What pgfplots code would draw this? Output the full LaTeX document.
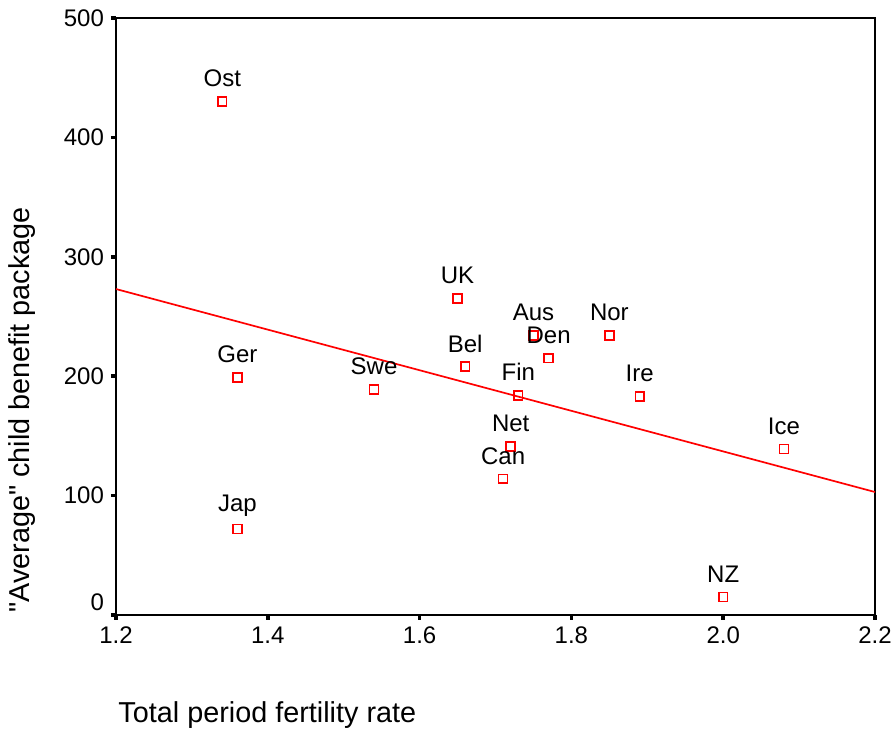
\documentclass[border=0pt]{standalone}
\usepackage{pgfplots}
\pgfplotsset{compat=1.18}
\usepackage{fontspec}
\setmainfont{Liberation Sans}
% family without the TeX quote mapping, so " stays straight
\newfontfamily\plainquote{Liberation Sans}
\definecolor{spssRed}{RGB}{255,0,0}

\begin{document}
\begin{tikzpicture}
\begin{axis}[
  scale only axis,
  width=379.5pt,height=298.5pt,
  xmin=1.2,xmax=2.2,ymin=0,ymax=500,
  xtick={1.2,1.4,...,2.2},
  ytick={100,200,...,500},
  extra y ticks={0},
  extra y tick style={yticklabel style={yshift=6.5pt}},
  xtick pos=bottom,ytick pos=left,
  xticklabel style={/pgf/number format/fixed,
    /pgf/number format/fixed zerofill,
    /pgf/number format/precision=1},
  /pgf/number format/assume math mode=true,
  tick label style={font=\fontsize{12}{14}\selectfont},
  tick align=outside,
  major tick length=2.5pt,
  tick style={black,line width=1.8pt},
  axis line style={line width=0.7pt},
  clip=false,
  xlabel={Total period fertility rate},
  ylabel={\plainquote "Average" child benefit package},
  xlabel style={at={(axis description cs:0,0)},anchor=west,
                xshift=-2.3pt,yshift=-50pt,font=\fontsize{14.4}{16}\selectfont},
  ylabel style={at={(axis description cs:-0.1238,0.3434)},anchor=center,
                font=\fontsize{14.4}{16}\selectfont},
]
\addplot[spssRed,line width=0.85pt] coordinates {(1.2,273) (2.2,103)};
\addplot[spssRed,draw=spssRed,only marks,mark=square,mark size=2.2pt,
  mark options={draw=spssRed,line width=0.8pt,fill=white},
  point meta=explicit symbolic,
  nodes near coords,
  every node near coord/.style={anchor=center,yshift=11.5pt,
    font=\fontsize{12}{14}\selectfont,black}]
coordinates {
  (1.34,430) [Ost]
  (1.36,199) [Ger]
  (1.36,72)  [Jap]
  (1.54,189) [Swe]
  (1.65,265) [UK]
  (1.66,208) [Bel]
  (1.75,234) [Aus]
  (1.77,215) [Den]
  (1.73,184) [Fin]
  (1.72,141) [Net]
  (1.71,114) [Can]
  (1.85,234) [Nor]
  (1.89,183) [Ire]
  (2.08,139) [Ice]
  (2.00,15)  [NZ]
};
\end{axis}
\pgfresetboundingbox
\path (current axis.south west) ++(-58pt,-59pt) rectangle ++(447pt,366.5pt);
\end{tikzpicture}
\end{document}
